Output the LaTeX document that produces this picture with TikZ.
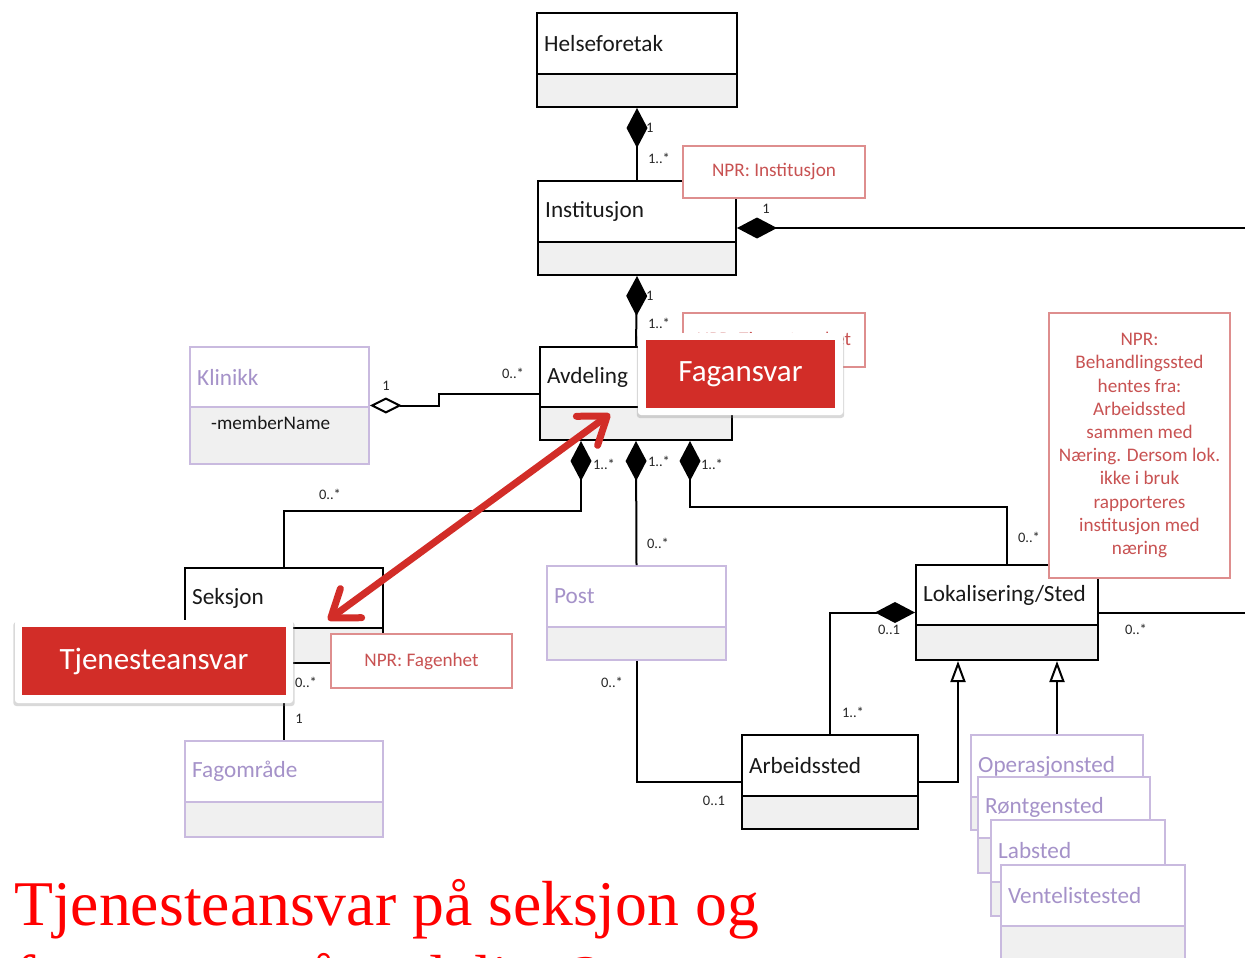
\documentclass[tikz,border=0pt]{standalone}
\usepackage{fontspec}
\setmainfont{Carlito}
\newfontfamily\bigserif{Liberation Serif}
\usetikzlibrary{arrows.meta,fit,shadows}

\definecolor{compfill}{HTML}{F0F0F0}
\definecolor{purpline}{HTML}{C9BADF}
\definecolor{purptext}{HTML}{A592C9}
\definecolor{noteline}{HTML}{DE8E8E}
\definecolor{notetext}{HTML}{C85252}
\definecolor{calloutred}{RGB}{210,45,40}

% one UML class: name, x1, y1, x2, y2, divider y, title, look
\newcommand\umlclass[8]{%
  \coordinate (#1-nw) at (#2,#3);
  \coordinate (#1-se) at (#4,#5);
  \fill[white] (#2,#3) rectangle (#4,#6);
  \fill[compfill] (#2,#6) rectangle (#4,#5);
  \node[#8, fit=(#1-nw)(#1-se), inner sep=0pt, draw] (#1) {};
  \draw[#8] (#2,#6) coordinate (#1-dl) -- (#4,#6) coordinate (#1-dr);
  \node[anchor=west, #8 title] (#1-t) at (#2+7, {(#3+#6)/2}) {#7};
}

\begin{document}
\begin{tikzpicture}[x=1pt, y=-1pt,
  plain/.style={draw=black, line width=2pt},
  plain title/.style={text=black!90, font=\fontsize{23.2}{27}\selectfont, inner sep=0pt},
  faded/.style={draw=purpline, line width=1.6pt},
  faded title/.style={text=purptext, font=\fontsize{23.2}{27}\selectfont, inner sep=0pt},
  link/.style={draw=black, line width=2pt},
  compose/.style={link, arrows={Diamond[length=40pt,width=21pt]-}},
  aggregate/.style={link, arrows={Diamond[fill=white,length=32pt,width=16pt]-}},
  inherit/.style={link, arrows={-Triangle[fill=white,length=21pt,width=15pt]}},
  mult/.style={font=\fontsize{14.5}{16}\selectfont, text=black!85, inner sep=0pt},
  note/.style={draw=noteline, line width=1.4pt, fill=white, text=notetext,
    font=\fontsize{19.2}{23.2}\selectfont, align=center, inner sep=0pt},
  callout frame/.style={fill=white, rounded corners=3pt,
    drop shadow={shadow xshift=0pt, shadow yshift=-2.5pt, shadow scale=1.012, opacity=0.3}},
  callout/.style={fill=calloutred, text=white, font=\fontsize{31}{36}\selectfont, inner sep=0pt},
  resparrow/.style={draw=calloutred, line width=7pt, line cap=round,
    arrows={Straight Barb[length=25pt,width=36pt,line cap=round,line join=round]-Straight Barb[length=25pt,width=36pt,line cap=round,line join=round]}},
  headline/.style={text=red, font=\bigserif\fontsize{63.7}{72}\selectfont, inner sep=0pt, anchor=base west}
]
\useasboundingbox (0,0) rectangle (1245,958);

% ---------- classes ----------
\umlclass{hf}{537}{13}{737}{107}{74}{Helseforetak}{plain}
\umlclass{inst}{538}{181}{736}{275}{242}{Institusjon}{plain}
\umlclass{avd}{540}{347}{732}{440}{407}{Avdeling}{plain}
\umlclass{kl}{190}{347}{369}{464}{407}{Klinikk}{faded}
\node[anchor=west, font=\fontsize{19.2}{22}\selectfont, text=black!90, inner sep=0pt] (klattr) at (211,423) {-memberName};
\umlclass{sek}{185}{568}{383}{663}{628}{Seksjon}{plain}
\umlclass{fag}{185}{741}{383}{837}{802}{Fagområde}{faded}
\umlclass{post}{547}{566}{726}{660}{627}{Post}{faded}
\umlclass{lok}{916}{565}{1098}{660}{625}{Lokalisering/Sted}{plain}
\umlclass{arb}{742}{735}{918}{829}{796}{Arbeidssted}{plain}
\umlclass{ops}{971}{735}{1143}{830}{797}{Operasjonsted}{faded}
\umlclass{ront}{978}{777}{1150}{873}{838}{Røntgensted}{faded}
\umlclass{lab}{991}{820}{1165}{916}{882}{Labsted}{faded}
\umlclass{vent}{1001}{865}{1185}{995}{926}{Ventelistested}{faded}

% ---------- connectors ----------
\coordinate (edgeA) at (1245,228);
\coordinate (edgeB) at (1245,612.5);
\draw[compose] (hf.south) -- (inst.north);
\draw[compose] (inst.east) -- (edgeA);
\draw[compose] (inst.south) -- (avd.north);
\draw[aggregate] (kl.east) -- ++(69,0) |- (avd.west);
\draw[compose] ([xshift=-55pt]avd.south) -- ++(0,70) -| (sek.north);
\draw[compose] (avd.south) -- (post.north);
\draw[compose] ([xshift=54pt]avd.south) -- ++(0,66) -| (lok.north);
\draw[link] (sek.south) -- (fag.north);
\draw[link] (post.south) |- (arb.west);
\draw[compose] (lok.west) -| (arb.north);
\draw[inherit] (arb.east) -| ([xshift=-49pt]lok.south);
\draw[inherit] (ops.north) -- (ops.north |- lok.south);
\draw[link] (lok.east) -- (edgeB);

% ---------- multiplicities ----------
\node[mult, anchor=west] (m1) at (646,128) {1};
\node[mult] (m2) at (659,158) {1..*};
\node[mult] (m3) at (766,209) {1};
\node[mult, anchor=west] (m4) at (646,296) {1};
\node[mult] (m5) at (659,323) {1..*};
\node[mult] (m6) at (386,386) {1};
\node[mult] (m7) at (513,373) {0..*};
\node[mult] (m8) at (604,464) {1..*};
\node[mult] (m9) at (659,461) {1..*};
\node[mult] (m10) at (712,464) {1..*};
\node[mult] (m11) at (330,494) {0..*};
\node[mult] (m12) at (658,543) {0..*};
\node[mult] (m13) at (1029,537) {0..*};
\node[mult] (m14) at (306,682) {0..*};
\node[mult] (m15) at (299,719) {1};
\node[mult] (m16) at (612,682) {0..*};
\node[mult] (m17) at (714,801) {0..1};
\node[mult] (m18) at (853,712) {1..*};
\node[mult] (m19) at (889,630) {0..1};
\node[mult] (m20) at (1136,629) {0..*};

% ---------- notes ----------
\node[note, minimum width=182pt, minimum height=52pt] (npr1) at (774,172) {NPR: Institusjon};
\node[note, minimum width=182pt, minimum height=54pt] (npr2) at (774,340) {NPR: Tjenesteenhet};
\node[note, minimum width=181pt, minimum height=54pt] (npr3) at (421.5,661) {NPR: Fagenhet};
\node[note, minimum width=181pt, minimum height=265pt] (npr4) at (1139.5,445.5)
  {NPR:\\Behandlingssted\\hentes fra:\\Arbeidssted\\sammen med\\Næring. Dersom lok.\\ikke i bruk\\rapporteres\\institusjon med\\næring};

% ---------- responsibility arrow ----------
\coordinate (arrS) at (328,620);
\coordinate (arrF) at (610,414);
\draw[resparrow] (arrS) -- (arrF);

% ---------- callouts ----------
\node[callout frame, minimum width=205pt, minimum height=82pt] (fagframe) at (740.5,374) {};
\node[callout, minimum width=189pt, minimum height=68pt] (fagansvar) at (740.5,374) {Fagansvar};
\node[callout frame, minimum width=278pt, minimum height=83pt] (tjframe) at (154,661.5) {};
\node[callout, minimum width=264pt, minimum height=68pt] (tjansvar) at (154,661) {Tjenesteansvar};

% ---------- headline ----------
\node[headline] (headA) at (14,925) {Tjenesteansvar på seksjon og};
\node[headline] (headB) at (14,999) {fagansvar på avdeling?};
\end{tikzpicture}
\end{document}
